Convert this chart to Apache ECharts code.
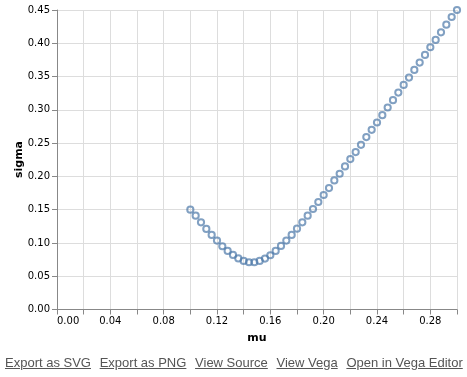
<!DOCTYPE html>
<html>
<head>
<meta charset="utf-8">
<script src="https://cdn.jsdelivr.net/npm/echarts@6/dist/echarts.min.js"></script>
<style>
    html, body { margin: 0; padding: 0; background: #fff; }
    #chart { position: absolute; left: 0; top: 0; width: 467px; height: 377px; }
    .actions { position: absolute; left: 5px; top: 355px; font-family: "Liberation Sans", Arial, sans-serif; font-size: 13px; white-space: nowrap; }
    .actions a { color: #555; text-decoration: underline; margin-right: 8.7px; }
</style>
</head>
<body>
<div id="chart"></div>
<div class="actions">
    <a href="#">Export as SVG</a><a href="#">Export as PNG</a><a href="#">View Source</a><a href="#">View Vega</a><a href="#">Open in Vega Editor</a>
</div>
<script>
    // 数据
    var mu = [0.100, 0.104, 0.108, 0.112, 0.116, 0.120, 0.124, 0.128, 0.132, 0.136,
        0.140, 0.144, 0.148, 0.152, 0.156, 0.160, 0.164, 0.168, 0.172, 0.176,
        0.180, 0.184, 0.188, 0.192, 0.196, 0.200, 0.204, 0.208, 0.212, 0.216,
        0.220, 0.224, 0.228, 0.232, 0.236, 0.240, 0.244, 0.248, 0.252, 0.256,
        0.260, 0.264, 0.268, 0.272, 0.276, 0.280, 0.284, 0.288, 0.292, 0.296, 0.300];
    var sigma = [0.150, 0.141, 0.131, 0.121, 0.112, 0.1035, 0.095, 0.088, 0.082, 0.0768,
        0.073, 0.071, 0.071, 0.073, 0.0765, 0.0815, 0.088, 0.0955, 0.1035, 0.112,
        0.1215, 0.131, 0.141, 0.151, 0.1615, 0.172, 0.1825, 0.194, 0.204, 0.215,
        0.226, 0.2365, 0.2475, 0.259, 0.270, 0.281, 0.292, 0.3035, 0.3145, 0.326,
        0.3375, 0.3485, 0.360, 0.371, 0.3825, 0.394, 0.405, 0.4165, 0.428, 0.4395, 0.450];

    var points = mu.map(function (m, i) { return [m, sigma[i]]; });

    var font = '"DejaVu Sans", sans-serif';
    var chart = echarts.init(document.getElementById('chart'));
    chart.setOption({
        animation: false,
        grid: { left: 57, right: 10, top: 10, bottom: 67.5 },
        // y轴标题
        graphic: [{
            type: 'text',
            x: 19, y: 159.5,
            rotation: Math.PI / 2,
            style: {
                text: 'sigma', fill: '#000',
                font: 'bold 11px "DejaVu Sans", sans-serif',
                align: 'center', verticalAlign: 'middle'
            }
        }],
        xAxis: {
            type: 'value',
            min: 0, max: 0.3, interval: 0.02,
            name: 'mu', nameLocation: 'middle', nameGap: 23,
            nameTextStyle: { fontFamily: font, fontSize: 11, fontWeight: 'bold', color: '#000' },
            axisLine: { show: true, lineStyle: { color: '#888' } },
            axisTick: { show: true, length: 5, lineStyle: { color: '#888' } },
            axisLabel: {
                fontFamily: font, fontSize: 10, color: '#000', margin: 7,
                alignMinLabel: 'left',
                formatter: function (v) {
                    return Math.round(v * 100) % 4 === 0 ? v.toFixed(2) : '';
                }
            },
            splitLine: { show: true, lineStyle: { color: '#ddd' } }
        },
        yAxis: {
            type: 'value',
            min: 0, max: 0.45, interval: 0.05,
            axisLine: { show: true, lineStyle: { color: '#888' } },
            axisTick: { show: true, length: 5, lineStyle: { color: '#888' } },
            axisLabel: {
                fontFamily: font, fontSize: 10, color: '#000', margin: 7,
                formatter: function (v) { return v.toFixed(2); }
            },
            splitLine: { show: true, lineStyle: { color: '#ddd' } }
        },
        series: [{
            type: 'scatter',
            data: points,
            symbol: 'circle',
            symbolSize: 6.2,
            itemStyle: {
                color: 'rgba(255,255,255,0)',
                borderColor: '#4c78a8',
                borderWidth: 2,
                opacity: 0.7
            }
        }]
    });
</script>
</body>
</html>
